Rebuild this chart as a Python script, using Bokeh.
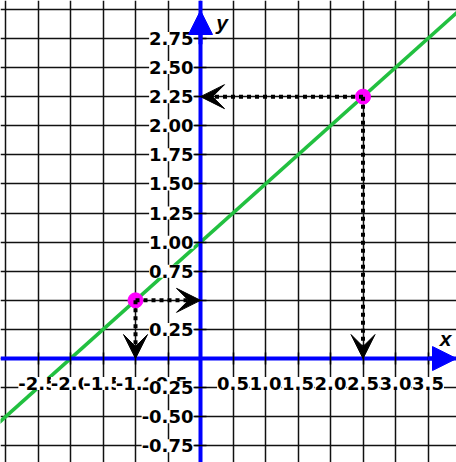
from bokeh.plotting import figure
from bokeh.models import (LinearAxis, FixedTicker, Arrow, VeeHead, NormalHead, Range1d,
                          LabelSet, ColumnDataSource)
from bokeh.core.properties import value
from bokeh.embed import file_html
from bokeh.resources import INLINE

# ---- data ----
x_ticks = [-2.5, -2.0, -1.5, -1.0, -0.5, 0.5, 1.0, 1.5, 2.0, 2.5, 3.0, 3.5]
x_tick_labels = ["-2.5", "-2.0", "-1.5", "-1.0", "-0.5", "0.5", "1.0", "1.5", "2.0", "2.5", "3.0", "3.5"]
y_ticks = [-0.75, -0.5, -0.25, 0.25, 0.5, 0.75, 1.0, 1.25, 1.5, 1.75, 2.0, 2.25, 2.5, 2.75]
y_label_ticks = [-0.75, -0.5, -0.25, 0.25, 0.75, 1.0, 1.25, 1.5, 1.75, 2.0, 2.25, 2.5, 2.75]
y_tick_labels = ["-0.75", "-0.50", "-0.25", "0.25", "0.75", "1.00", "1.25",
                 "1.50", "1.75", "2.00", "2.25", "2.50", "2.75"]
x_grid = [-3.0, -2.5, -2.0, -1.5, -1.0, -0.5, 0.0, 0.5, 1.0, 1.5, 2.0, 2.5, 3.0, 3.5]
y_grid = [-0.75, -0.5, -0.25, 0.0, 0.25, 0.5, 0.75, 1.0, 1.25, 1.5, 1.75, 2.0, 2.25, 2.5, 2.75, 3.0]

line_x = [-3.1, 4.0]
line_y = [-0.55, 3.0]

point_x = [-1.0, 2.5]
point_y = [0.5, 2.25]

x_min, x_max = -3.077, 3.938
y_min, y_max = -0.893, 3.076

axis_names = ["x", "y"]
axis_name_x = [3.77, 0.33]
axis_name_y = [0.17, 2.89]

LABEL_FONT = "DejaVu Sans"
NAME_FONT = "Liberation Sans"

p = figure(width=456, height=462, x_range=Range1d(x_min, x_max), y_range=Range1d(y_min, y_max),
           x_axis_location=None, y_axis_location=None, toolbar_location=None,
           output_backend="svg", min_border=0)
p.outline_line_color = None
p.background_fill_color = "white"
p.border_fill_color = "white"

p.xgrid.ticker = FixedTicker(ticks=x_grid)
p.ygrid.ticker = FixedTicker(ticks=y_grid)
for g in (p.xgrid, p.ygrid):
    g.grid_line_color = "#111111"
    g.grid_line_width = 1.5

# green line
p.line(line_x, line_y, line_color="#22c040", line_width=3.5)

# points
p.scatter(point_x, point_y, size=15, fill_color="#ff00ff", line_color="#ff00ff")


def style_axis(ax, ticks):
    ax.major_label_overrides = {t: "" for t in ticks}
    ax.axis_line_color = "#0000ff"
    ax.axis_line_width = 4
    ax.major_tick_line_color = "black"
    ax.major_tick_line_width = 1.5
    ax.major_tick_in = 6
    ax.major_tick_out = 6
    ax.minor_tick_line_color = None


xax = LinearAxis(fixed_location=0, ticker=FixedTicker(ticks=x_ticks))
style_axis(xax, x_ticks)
p.add_layout(xax, "below")

yax = LinearAxis(fixed_location=0, ticker=FixedTicker(ticks=y_ticks))
style_axis(yax, y_ticks)
p.add_layout(yax, "left")

# tick labels (white boxes hide the grid behind them)
xsrc = ColumnDataSource(dict(x=x_ticks, y=[0.0] * len(x_ticks), t=x_tick_labels))
ysrc = ColumnDataSource(dict(x=[0.0] * len(y_label_ticks), y=y_label_ticks, t=y_tick_labels))
p.add_layout(LabelSet(x="x", y="y", text="t", source=xsrc, y_offset=-25,
                      text_align="center", text_baseline="middle",
                      text_font=value(LABEL_FONT), text_font_style="bold",
                      text_font_size="18px", text_color="black",
                      background_fill_color="white"))
p.add_layout(LabelSet(x="x", y="y", text="t", source=ysrc, x_offset=-7,
                      text_align="right", text_baseline="middle",
                      text_font=value(LABEL_FONT), text_font_style="bold",
                      text_font_size="18px", text_color="black",
                      background_fill_color="white"))

# axis arrow heads
p.add_layout(Arrow(end=NormalHead(size=24, fill_color="#0000ff", line_color="#0000ff"),
                   x_start=3.5, y_start=0, x_end=x_max, y_end=0,
                   line_color="#0000ff", line_width=4))
p.add_layout(Arrow(end=NormalHead(size=24, fill_color="#0000ff", line_color="#0000ff"),
                   x_start=0, y_start=2.7, x_end=0, y_end=2.99,
                   line_color="#0000ff", line_width=4))

# dotted projection arrows
for (xs, ys) in zip(point_x, point_y):
    for (xe, ye) in ((0.0, ys), (xs, 0.0)):
        p.add_layout(Arrow(end=VeeHead(size=24, fill_color="black", line_color="black"),
                           x_start=xs, y_start=ys, x_end=xe, y_end=ye,
                           line_color="black", line_width=4, line_dash="4 4"))

# axis names
p.text(axis_name_x, axis_name_y, text=axis_names, text_font=value(NAME_FONT),
       text_font_style="bold italic", text_font_size="21px", text_color="black",
       text_align="center", text_baseline="middle")

open("out.html", "w").write(file_html(p, INLINE))
